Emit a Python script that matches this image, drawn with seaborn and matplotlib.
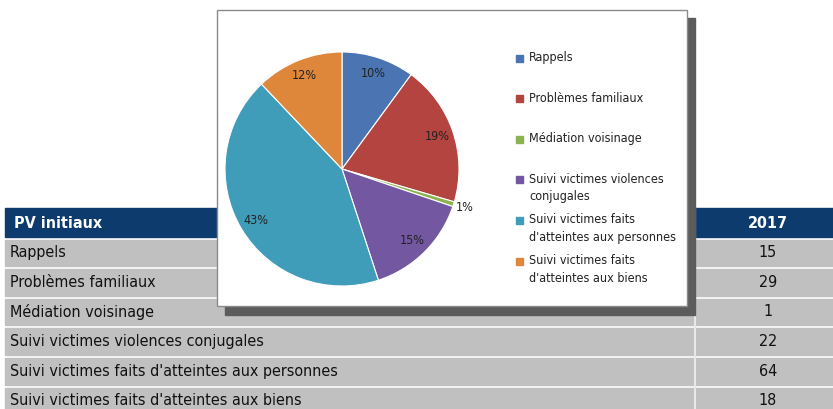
import matplotlib
matplotlib.use("Agg")
import matplotlib.pyplot as plt
from matplotlib.patches import Rectangle
import numpy as np
import seaborn as sns

# Données du tableau / camembert
categories = ["Rappels", "Problèmes familiaux", "Médiation voisinage",
              "Suivi victimes violences conjugales",
              "Suivi victimes faits d'atteintes aux personnes",
              "Suivi victimes faits d'atteintes aux biens"]
legend_labels = ["Rappels", "Problèmes familiaux", "Médiation voisinage",
                 "Suivi victimes violences\nconjugales",
                 "Suivi victimes faits\nd'atteintes aux personnes",
                 "Suivi victimes faits\nd'atteintes aux biens"]
valeurs_2017 = [15, 29, 1, 22, 64, 18]
header = ["PV initiaux", "2017"]
couleurs = ["#4A74B2", "#B3443F", "#8DB350", "#7357A0", "#3F9DB9", "#DE873B"]

sns.set_theme(style="white")
plt.rcParams['font.family'] = ['DejaVu Sans']
plt.rcParams['font.stretch'] = 'condensed'

W, H = 833, 409
fig = plt.figure(figsize=(W / 100, H / 100), dpi=100)
fig.patch.set_facecolor("white")

# axe de fond en coordonnées pixel
bg = fig.add_axes([0, 0, 1, 1])
bg.set_xlim(0, W)
bg.set_ylim(H, 0)
bg.axis("off")

# --- tableau ---
fs_tab = 11.5
x0, xcol, x1 = 5, 695, 840
bg.add_patch(Rectangle((x0, 208), x1 - x0, 29, color="#0D3B6E", zorder=1))
bg.plot([xcol, xcol], [208, 237], color="#5a7aa0", lw=1, zorder=2)
bg.text(14, 223, header[0], color="white", fontsize=fs_tab, fontweight="bold",
        va="center", ha="left", zorder=2)
bg.text(768, 223, header[1], color="white", fontsize=fs_tab, fontweight="bold",
        va="center", ha="center", zorder=2)

row_h = 29.6
for i, (cat, v) in enumerate(zip(categories, valeurs_2017)):
    ytop = 239.5 + i * row_h
    bg.add_patch(Rectangle((x0, ytop), x1 - x0, row_h - 3, color="#C0C0C0", zorder=1))
    yc = ytop + (row_h - 3) / 2
    bg.text(10, yc, cat, fontsize=fs_tab, va="center", ha="left", color="#111111", zorder=2)
    bg.text(768, yc, str(v), fontsize=fs_tab, va="center", ha="center", color="#111111", zorder=2)
bg.plot([xcol, xcol], [237, H], color="#e8e8e8", lw=1.5, zorder=2)

# --- cadre du graphique ---
bg.add_patch(Rectangle((225, 18), 470, 297, color="#5c5c5c", zorder=3))
bg.add_patch(Rectangle((217, 10), 470, 296, facecolor="white", edgecolor="#8a8a8a",
                       lw=1, zorder=4))

# --- camembert ---
cx, cy, r = 342, 169, 117
pax = fig.add_axes([(cx - r) / W, (H - cy - r) / H, 2 * r / W, 2 * r / H])
pax.set_zorder(5)
wedges, _ = pax.pie(valeurs_2017, colors=couleurs, startangle=90, counterclock=False,
                    wedgeprops=dict(edgecolor="white", linewidth=0.8))
pax.set_xlim(-1, 1)
pax.set_ylim(-1, 1)
pax.set_aspect("equal")
pax.axis("off")

total = sum(valeurs_2017)
ang = 90.0
for v in valeurs_2017:
    span = 360.0 * v / total
    mid = np.deg2rad(ang - span / 2)
    ang -= span
    pct = 100.0 * v / total
    d = 0.86 if pct > 3 else 1.1
    pax.text(d * np.cos(mid), d * np.sin(mid), f"{pct:.0f}%", ha="center", va="center",
             fontsize=9, color="#222222", clip_on=False)

# --- légende ---
for i, (lab, col) in enumerate(zip(legend_labels, couleurs)):
    y = 58 + i * 40.6
    bg.add_patch(Rectangle((516, y - 3.5), 7, 7, color=col, zorder=6))
    bg.text(529, y - 7, lab, fontsize=9, va="top", ha="left", color="#222222",
            linespacing=1.45, zorder=6)

fig.savefig("out.png", dpi=100)
